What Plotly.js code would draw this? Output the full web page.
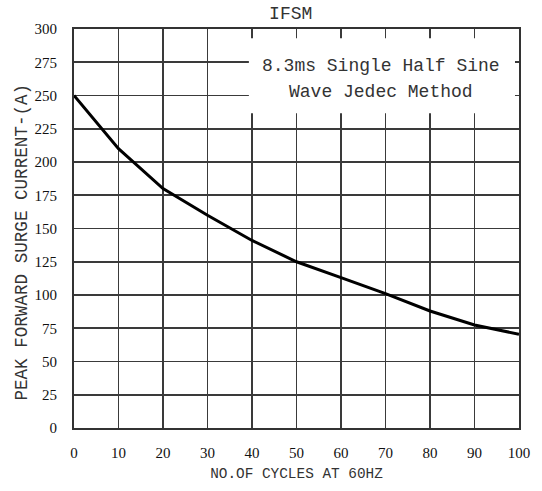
<!DOCTYPE html>
<html>
<head>
<meta charset="utf-8">
<script src="https://cdn.plot.ly/plotly-3.0.1.min.js"></script>
<style>html,body{margin:0;padding:0;background:#fff;}#chart{width:542px;height:491px;}</style>
</head>
<body>
<div id="chart"></div>
<script>
// Data
const cycles = [0, 10, 20, 30, 40, 50, 60, 70, 80, 90, 100];
const surgeCurrent = [250, 210, 180, 160, 141, 125, 113, 101, 88, 77.5, 70.5];
const xTicks = [0, 10, 20, 30, 40, 50, 60, 70, 80, 90, 100];
const yTicks = [0, 25, 50, 75, 100, 125, 150, 175, 200, 225, 250, 275, 300];

const monoFont = '"Liberation Mono", "DejaVu Sans Mono", monospace';
const serifFont = '"Liberation Serif", "DejaVu Serif", serif';

const trace = {
  x: cycles,
  y: surgeCurrent,
  type: 'scatter',
  mode: 'lines',
  line: {color: '#000', width: 3},
  hoverinfo: 'skip'
};

const layout = {
  width: 542,
  height: 491,
  margin: {l: 74, r: 23, t: 29, b: 63},
  paper_bgcolor: '#fff',
  plot_bgcolor: '#fff',
  showlegend: false,
  title: {
    text: 'IFSM',
    font: {family: monoFont, size: 18, color: '#333'},
    xref: 'paper', x: 0.487, xanchor: 'center',
    yref: 'container', y: 1 - 13 / 491, yanchor: 'middle'
  },
  xaxis: {
    range: [0, 100],
    tickvals: xTicks,
    ticktext: xTicks.map(String),
    ticks: '',
    ticklabelstandoff: 10,
    showgrid: true,
    gridcolor: '#3a3a3a',
    gridwidth: 1.6,
    zeroline: false,
    showline: true,
    linecolor: '#333',
    linewidth: 2,
    mirror: true,
    tickfont: {family: serifFont, size: 15, color: '#111'},
    title: {
      text: 'NO.OF CYCLES AT 60HZ',
      font: {family: monoFont, size: 14.4, color: '#333'},
      standoff: 8
    },
    fixedrange: true
  },
  yaxis: {
    range: [0, 300],
    tickvals: yTicks,
    ticktext: yTicks.map(String),
    ticks: '',
    ticklabelstandoff: 12,
    showgrid: true,
    gridcolor: '#3a3a3a',
    gridwidth: 1.6,
    zeroline: false,
    showline: true,
    linecolor: '#333',
    linewidth: 2,
    mirror: true,
    tickfont: {family: serifFont, size: 15, color: '#111'},
    fixedrange: true
  },
  shapes: [{
    type: 'rect',
    xref: 'paper', yref: 'paper',
    x0: 0.393, x1: 0.991, y0: 0.789, y1: 0.977,
    fillcolor: '#fff',
    line: {width: 0},
    layer: 'above'
  }],
  annotations: [
    {
      text: 'PEAK FORWARD SURGE CURRENT-(A)',
      xref: 'paper', yref: 'paper',
      x: -0.117, y: 0.467, xanchor: 'center', yanchor: 'middle',
      textangle: -90,
      showarrow: false,
      font: {family: monoFont, size: 17.6, color: '#333'}
    },
    {
      text: '8.3ms Single Half Sine',
      xref: 'paper', yref: 'paper',
      x: 0.691, y: 0.907, xanchor: 'center', yanchor: 'middle',
      showarrow: false,
      font: {family: monoFont, size: 18, color: '#333'}
    },
    {
      text: 'Wave Jedec Method',
      xref: 'paper', yref: 'paper',
      x: 0.691, y: 0.842, xanchor: 'center', yanchor: 'middle',
      showarrow: false,
      font: {family: monoFont, size: 18, color: '#333'}
    }
  ]
};

Plotly.newPlot('chart', [trace], layout, {staticPlot: true, displayModeBar: false});
</script>
</body>
</html>
